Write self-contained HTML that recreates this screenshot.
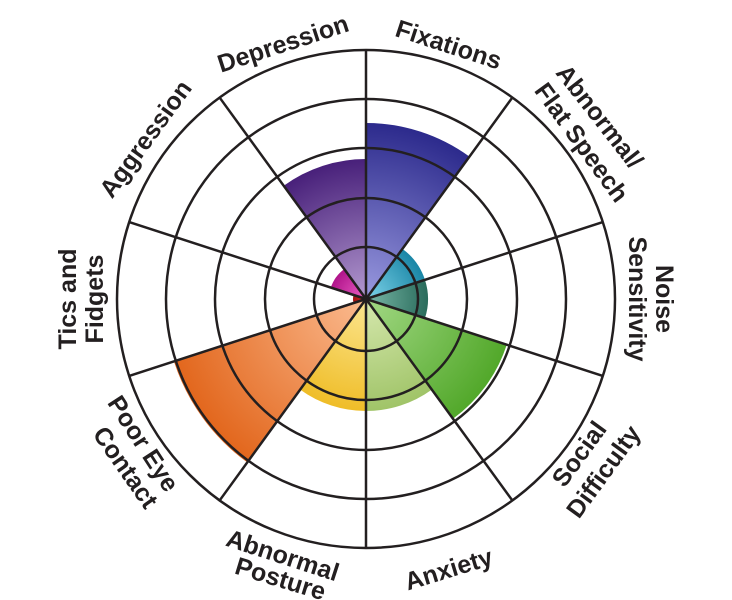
<!DOCTYPE html>
<html><head><meta charset="utf-8"><style>
html,body{margin:0;padding:0;background:#fff;width:732px;height:600px;overflow:hidden}
svg text{font-family:"Liberation Sans",sans-serif;font-weight:bold;font-size:25px;fill:#231f20}
</style></head><body>
<svg id="s" width="732" height="600" viewBox="0 0 732 600" xmlns="http://www.w3.org/2000/svg"><defs id="d"></defs><g id="w"></g><g id="g"></g><g id="t"></g></svg>
<script>
var cx=366,cy=299,NS="http://www.w3.org/2000/svg";
function P(r,a){a=a*Math.PI/180;return [cx+r*Math.sin(a),cy-r*Math.cos(a)];}
function el(tag,attrs,parent){var e=document.createElementNS(NS,tag);for(var k in attrs)e.setAttribute(k,attrs[k]);parent.appendChild(e);return e;}
var defs=document.getElementById('d'),W=document.getElementById('w'),G=document.getElementById('g'),T=document.getElementById('t');
var wedges=[
 [0,176,'#9a9ae0','#2c2a8c'],
 [36,62,'#7fd4ea','#1a86a6'],
 [72,62,'#7ab8a8','#2a6c5c'],
 [108,148,'#a2d884','#52a82a'],
 [144,112,'#d6e8ae','#a0c468'],
 [180,112,'#fce690','#efbd28'],
 [216,202,'#fbbb90','#e2661c'],
 [252,13,'#d03030','#a01010'],
 [288,37,'#ee60c8','#b0148a'],
 [324,140,'#b49ad0','#48207a']
];
wedges.forEach(function(w,i){
 var id='gr'+i;
 var g=el('radialGradient',{id:id,gradientUnits:'userSpaceOnUse',cx:cx,cy:cy,r:w[1]},defs);
 el('stop',{offset:'0','stop-color':w[2]},g);
 el('stop',{offset:'1','stop-color':w[3]},g);
 var a=P(w[1],w[0]),b=P(w[1],w[0]+36);
 el('path',{d:'M'+cx+' '+cy+'L'+a[0]+' '+a[1]+'A'+w[1]+' '+w[1]+' 0 0 1 '+b[0]+' '+b[1]+'Z',fill:'url(#'+id+')'},W);
});
[52,101,151,200,249].forEach(function(r){el('circle',{cx:cx,cy:cy,r:r,fill:'none',stroke:'#231f20','stroke-width':2.5},G);});
for(var k=0;k<10;k++){var p=P(249,k*36);el('line',{x1:cx,y1:cy,x2:p[0],y2:p[1],stroke:'#231f20','stroke-width':2.5},G);}
el('circle',{cx:cx,cy:cy,r:3,fill:'#231f20'},G);
var labels=[
 [18,'Fixations',267,1],
 [52,'Abnormal/',296,1],[54,'Flat Speech',266,1],
 [90,'Noise',298,1],[90,'Sensitivity',271,1],
 [126,'Social',264,0],[126,'Difficulty',294,0],
 [163,'Anxiety',283,0],
 [198,'Abnormal',270,0],[197,'Posture',293,0],
 [237,'Poor Eye',266,0],[235,'Contact',294,0],
 [270,'Tics and',298,1],[270,'Fidgets',271,1],
 [306,'Aggression',272,1],
 [342,'Depression',268,1]
];
labels.forEach(function(l){
 var p=P(l[2],l[0]);var rot=l[3]?l[0]:l[0]-180;
 var t=el('text',{x:p[0],y:p[1],'text-anchor':'middle','dominant-baseline':'central',transform:'rotate('+rot+' '+p[0]+' '+p[1]+')'},T);
 t.textContent=l[1];
});
</script>
</body></html>
